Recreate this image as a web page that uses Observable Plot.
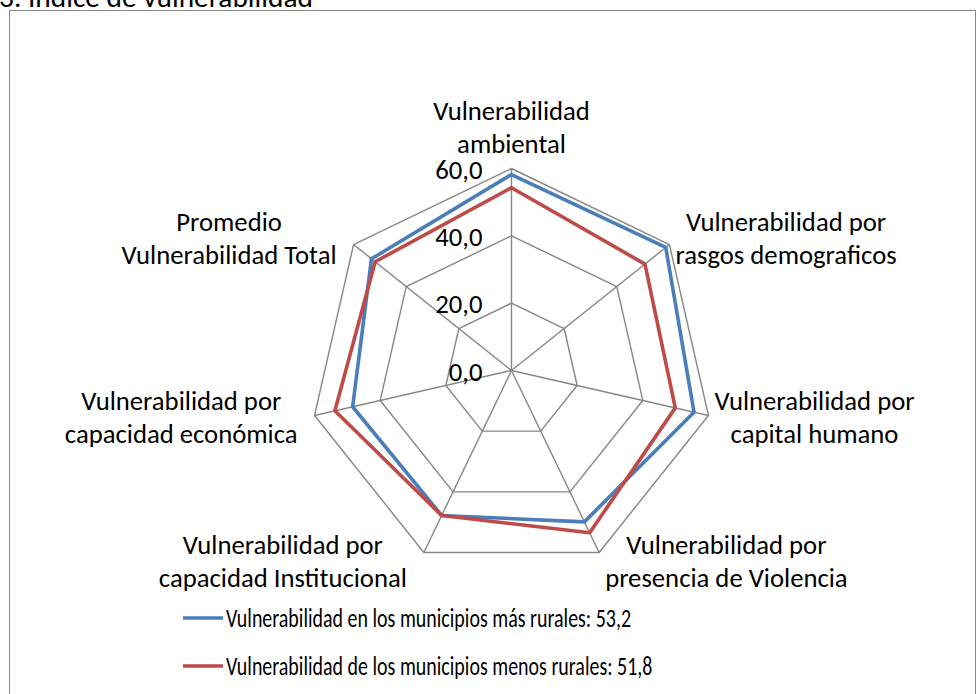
<!DOCTYPE html>
<html><head><meta charset="utf-8">
<script src="https://cdn.jsdelivr.net/npm/d3@7"></script>
<script src="https://cdn.jsdelivr.net/npm/@observablehq/plot@0.6"></script>
<style>
body{margin:0;background:#fff;}
#wrap{position:relative;width:976px;height:694px;overflow:hidden;font-family:Carlito,Lato,sans-serif;color:#000;}
#frame{position:absolute;left:9px;top:10px;width:965px;height:700px;border:1px solid #878787;pointer-events:none;}
#title{position:absolute;left:0;top:0;overflow:visible;}
.row{display:flex;align-items:center;height:48px;padding-left:183px;white-space:nowrap;}
.row svg{display:block;flex:none;}
.row span{margin-left:3px;display:inline-block;transform-origin:0 50%;}
</style></head><body>
<div id="wrap"><div id="chart"></div><div id="legend"></div><div id="frame"></div><svg id="title" width="420" height="20"></svg></div>
<script>
const titleText = "3. Índice de vulnerabilidad";
const categories = [
  "Vulnerabilidad\nambiental",
  "Vulnerabilidad por\nrasgos demograficos",
  "Vulnerabilidad por\ncapital humano",
  "Vulnerabilidad por\npresencia de Violencia",
  "Vulnerabilidad por\ncapacidad Institucional",
  "Vulnerabilidad por\ncapacidad económica",
  "Promedio\nVulnerabilidad Total"
];
const seriesNames = [
  "Vulnerabilidad en los municipios más rurales: 53,2",
  "Vulnerabilidad de los municipios menos rurales: 51,8"
];
const masRurales = [58.2, 58.6, 55.6, 49.9, 47.8, 48.4, 53.2];
const menosRurales = [54.3, 50.7, 49.9, 53.5, 47.8, 53.8, 51.8];
const ringValues = [0, 20, 40, 60];
const tickLabels = ["0,0", "20,0", "40,0", "60,0"];
const seriesColors = ["#4A7EBB", "#BE4B48"];

// layout
const W = 976, H = 594, cx = 511, cy = 370, rMax = 60, rPx = 202;
const k = rPx / rMax;
const n = categories.length;
const ang = i => 2 * Math.PI * i / n;
const pt = (i, v) => ({x: v * Math.sin(ang(i)), y: v * Math.cos(ang(i))});

const FONT = "Carlito, Lato, sans-serif";
const ctx = document.createElement("canvas").getContext("2d");
function tw(s, size) { ctx.font = `${size}px ${FONT}`; return ctx.measureText(s).width; }
const fs = Math.round(26 * 200 / tw("Vulnerabilidad por", 26) * 10) / 10;

const labelRows = [];
categories.forEach((c, i) => {
  const lines = c.split("\n");
  const w = Math.max(...lines.map(l => tw(l, fs)));
  const s = Math.sin(ang(i)), co = Math.cos(ang(i));
  const vx = cx + rPx * s, vy = cy - rPx * co;
  const lh = 33;
  let bx, baselines;
  if (Math.abs(s) < 1e-6) {
    bx = vx;
    const last = vy - 16;
    baselines = lines.map((_, j) => last - (lines.length - 1 - j) * lh);
  } else {
    bx = vx + (s > 0 ? 6 + w / 2 : -(17 + w / 2));
    const mid = vy + 9 - 10 * co;
    baselines = lines.map((_, j) => mid + (j - (lines.length - 1) / 2) * lh);
  }
  lines.forEach((l, j) => labelRows.push({text: l, x: (bx - cx) / k, y: (cy - baselines[j]) / k}));
});

const ringData = ringValues.filter(v => v > 0).flatMap(v => d3.range(n + 1).map(i => ({ring: v, ...pt(i % n, v)})));
const spokes = d3.range(n).map(i => { const p = pt(i, rMax); return {x1: 0, y1: 0, x2: p.x, y2: p.y}; });
const seriesPts = arr => d3.range(n + 1).map(i => pt(i % n, arr[i % n]));

const chart = Plot.plot({
  width: W, height: H, margin: 0,
  x: {domain: [-cx / k, (W - cx) / k], range: [0, W], axis: null},
  y: {domain: [-(H - cy) / k, cy / k], range: [H, 0], axis: null},
  style: {fontFamily: FONT, fontSize: fs + "px", background: "transparent", color: "#000", overflow: "visible"},
  marks: [
    Plot.line(ringData, {x: "x", y: "y", z: "ring", stroke: "#868686", strokeWidth: 1.4}),
    Plot.link(spokes, {x1: "x1", y1: "y1", x2: "x2", y2: "y2", stroke: "#868686", strokeWidth: 1.4}),
    Plot.line(seriesPts(masRurales), {x: "x", y: "y", stroke: seriesColors[0], strokeWidth: 3.6, strokeLinejoin: "miter"}),
    Plot.line(seriesPts(menosRurales), {x: "x", y: "y", stroke: seriesColors[1], strokeWidth: 3.6, strokeLinejoin: "miter"}),
    Plot.text(ringValues, {x: 0, y: d => d, text: (d, i) => tickLabels[i], textAnchor: "end", lineAnchor: "bottom", dx: -29, dy: 10, fontSize: fs, fill: "#000"}),
    Plot.text(labelRows, {x: "x", y: "y", text: "text", textAnchor: "middle", lineAnchor: "bottom", fontSize: fs, fill: "#000"})
  ]
});
document.getElementById("chart").appendChild(chart);

// legend (text is horizontally condensed in the original)
const legend = document.getElementById("legend");
const legScale = 405 / tw(seriesNames[0], fs);
seriesNames.forEach((name, i) => {
  const row = document.createElement("div");
  row.className = "row";
  row.style.fontSize = fs + "px";
  row.innerHTML = `<svg width="40" height="8"><line x1="0" y1="4" x2="40" y2="4" stroke="${seriesColors[i]}" stroke-width="3.6"/></svg><span style="transform:scaleX(${legScale})">${name}</span>`;
  legend.appendChild(row);
});

// title (cropped at top as in the original)
const t = document.getElementById("title");
t.innerHTML = `<text x="-1" y="7" font-family="${FONT}" font-size="${fs * 1.1}" fill="#000">${titleText}</text>`;
</script>
</body></html>
